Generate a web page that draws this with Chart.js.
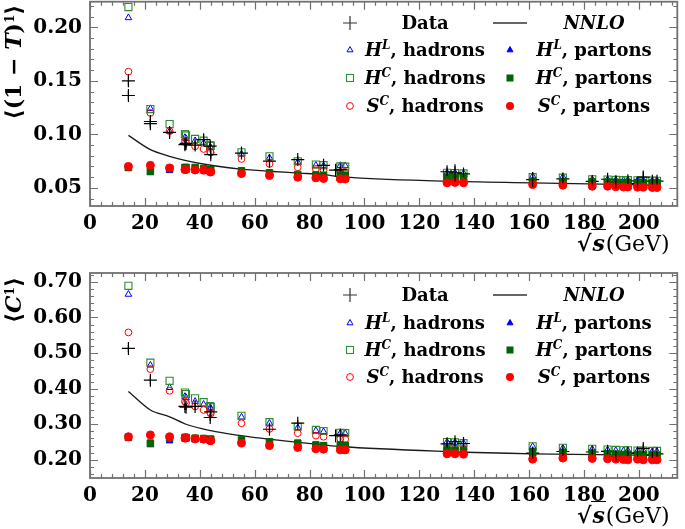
<!DOCTYPE html>
<html>
<head>
<meta charset="utf-8">
<script src="https://cdn.jsdelivr.net/npm/chart.js@4.4.1/dist/chart.umd.min.js"></script>
<style>
  body { margin: 0; background: #fff; }
  #wrap { position: relative; width: 685px; height: 529px; overflow: hidden;
          font-family: "DejaVu Serif", serif; font-weight: bold; color: #000; }
  canvas { position: absolute; left: 0; }
  .ytitle { position: absolute; white-space: nowrap; font-size: 22px;
            transform: translate(-50%, -50%) rotate(-90deg); }
  .xtitle { position: absolute; white-space: nowrap; font-size: 22px; }
  .xtitle .gev { font-weight: normal; }
  .xtitle .rad { border-top: 1.6px solid #000; font-style: italic; padding: 0 1px; }
  .cell { position: absolute; height: 24px; line-height: 24px; font-size: 18px;
          text-align: center; white-space: nowrap; }
  .mk { position: absolute; }
  i { font-style: italic; }
  sup { font-size: 12px; line-height: 0; vertical-align: 7px; font-style: italic; }
</style>
</head>
<body>
<div id="wrap">
  <canvas id="topChart"></canvas>
  <canvas id="botChart"></canvas>
  <div class="ytitle" style="left:13px;top:62px">⟨(1 − <i>T</i>)<sup style="font-style:normal">1</sup>⟩</div>
  <div class="ytitle" style="left:13px;top:300px">⟨<i>C</i><sup style="font-style:normal">1</sup>⟩</div>
  <div class="xtitle" style="left:577px;top:230px">√<span class="rad">s</span><span class="gev">(GeV)</span></div>
  <div class="xtitle" style="left:577px;top:502px">√<span class="rad">s</span><span class="gev">(GeV)</span></div>
</div>
<script>
// ── Data ──────────────────────────────────────────────────
const ENERGY = [14, 22, 29, 34.6, 35, 38.3, 41.4, 43.8, 44, 55.2, 65.4, 75.7, 82.3, 85.1, 91.2, 93,
                130.1, 133, 136.1, 161.3, 172.3, 183, 188.6, 191.6, 194.4, 196, 199.5, 201.6, 204.9, 206.6];

// thrust <(1-T)^1>
const T_HL_HAD = [0.209, 0.124, 0.1027, 0.097, 0.096, 0.094, 0.092, 0.088, 0.0875, 0.0815, 0.078, 0.074, 0.071, 0.0705, 0.0708, 0.0706,
                  0.064, 0.064, 0.0637, 0.0608, 0.0602, 0.0578, 0.0578, 0.0572, 0.0571, 0.0571, 0.0570, 0.0568, 0.0568, 0.0567];
const T_HC_HAD = [0.219, 0.1236, 0.1096, 0.1003, 0.099, 0.0957, 0.0941, 0.0897, 0.0892, 0.0832, 0.0795, 0.0748, 0.0717, 0.0712, 0.0700, 0.0698,
                  0.0640, 0.0638, 0.0635, 0.0600, 0.0595, 0.0580, 0.0577, 0.0574, 0.0572, 0.0572, 0.0570, 0.0569, 0.0567, 0.0566];
const T_SC_HAD = [0.1586, 0.120, 0.103, 0.0934, 0.092, 0.0888, 0.0863, 0.0835, 0.083, 0.077, 0.0724, 0.0692, 0.0677, 0.0661, 0.0649, 0.0648,
                  0.058, 0.058, 0.0578, 0.0555, 0.055, 0.0535, 0.0532, 0.053, 0.0528, 0.0528, 0.0527, 0.0526, 0.0525, 0.0524];
const T_HL_PAR = [0.068, 0.064, 0.066, 0.0665, 0.0665, 0.066, 0.066, 0.065, 0.065, 0.0635, 0.062, 0.061, 0.0605, 0.060, 0.0605, 0.0603,
                  0.0585, 0.0585, 0.0583, 0.0555, 0.0550, 0.0548, 0.0545, 0.0543, 0.0542, 0.0542, 0.054, 0.054, 0.0539, 0.0538];
const T_HC_PAR = [0.069, 0.0655, 0.068, 0.069, 0.069, 0.069, 0.068, 0.067, 0.067, 0.066, 0.064, 0.0625, 0.062, 0.0617, 0.062, 0.0618,
                  0.060, 0.0598, 0.0595, 0.0562, 0.0560, 0.0555, 0.0552, 0.055, 0.0549, 0.0549, 0.0548, 0.0547, 0.0546, 0.0545];
const T_SC_PAR = [0.070, 0.071, 0.0686, 0.067, 0.0672, 0.0667, 0.0665, 0.0649, 0.0648, 0.0633, 0.0615, 0.0599, 0.0593, 0.0587, 0.0584, 0.0583,
                  0.0547, 0.055, 0.0547, 0.053, 0.0525, 0.0515, 0.0515, 0.051, 0.0508, 0.0508, 0.0506, 0.0506, 0.0503, 0.0503];

const T_DATA_E   = [14, 14, 22, 22, 29, 34.6, 35, 38.3, 41.4, 43.8, 44, 55.2, 65.4, 75.7, 85.1, 89.5, 91.2,
                    130.1, 133, 136.1, 161.3, 172.3, 183, 188.6, 191.6, 196, 199.5, 201.6, 204.9, 206.6];
const T_DATA     = [0.150, 0.1363, 0.112, 0.110, 0.1018, 0.0903, 0.0915, 0.090, 0.095, 0.089, 0.081, 0.0825, 0.075, 0.0764, 0.071, 0.0665, 0.067,
                    0.065, 0.064, 0.063, 0.0577, 0.0583, 0.056, 0.058, 0.0555, 0.0565, 0.054, 0.060, 0.0562, 0.0562];
const T_DATA_ERR = [0.004, 0.004, 0.002, 0.002, 0.005, 0.005, 0.004, 0.004, 0.005, 0.004, 0.004, 0.003, 0.006, 0.003, 0.004, 0.002, 0.001,
                    0.004, 0.008, 0.003, 0.007, 0.004, 0.003, 0.003, 0.006, 0.003, 0.006, 0.005, 0.003, 0.003];

const NNLO_E = [14, 22, 29, 35, 44, 55, 65, 76, 85, 91.2, 130, 161, 207];
const T_NNLO = [0.099, 0.0857, 0.0795, 0.0755, 0.0711, 0.0675, 0.0655, 0.0638, 0.0624, 0.0605, 0.0562, 0.0546, 0.0524];

// C-parameter <C^1>
const C_HL_HAD = [0.665, 0.466, 0.403, 0.378, 0.375, 0.364, 0.356, 0.347, 0.344, 0.320, 0.303, 0.290, 0.282, 0.279, 0.275, 0.274,
                  0.250, 0.249, 0.247, 0.2375, 0.233, 0.230, 0.228, 0.226, 0.2255, 0.2255, 0.2255, 0.2255, 0.2235, 0.2235];
const C_HC_HAD = [0.689, 0.473, 0.422, 0.389, 0.385, 0.373, 0.362, 0.351, 0.348, 0.324, 0.306, 0.293, 0.284, 0.281, 0.276, 0.275,
                  0.250, 0.249, 0.247, 0.238, 0.234, 0.231, 0.229, 0.228, 0.227, 0.227, 0.226, 0.226, 0.225, 0.225];
const C_SC_HAD = [0.558, 0.455, 0.394, 0.364, 0.360, 0.350, 0.340, 0.333, 0.330, 0.303, 0.287, 0.275, 0.268, 0.265, 0.259, 0.258,
                  0.232, 0.232, 0.230, 0.215, 0.213, 0.210, 0.209, 0.208, 0.207, 0.207, 0.206, 0.206, 0.205, 0.205];
const C_HL_PAR = [0.262, 0.242, 0.253, 0.258, 0.258, 0.256, 0.255, 0.252, 0.252, 0.250, 0.245, 0.242, 0.237, 0.236, 0.238, 0.237,
                  0.222, 0.222, 0.221, 0.217, 0.215, 0.214, 0.213, 0.212, 0.211, 0.211, 0.210, 0.210, 0.210, 0.209];
const C_HC_PAR = [0.263, 0.247, 0.261, 0.263, 0.263, 0.261, 0.260, 0.258, 0.258, 0.256, 0.251, 0.247, 0.242, 0.240, 0.242, 0.241,
                  0.228, 0.227, 0.226, 0.2235, 0.221, 0.219, 0.217, 0.216, 0.215, 0.215, 0.215, 0.214, 0.214, 0.213];
const C_SC_PAR = [0.265, 0.270, 0.265, 0.261, 0.262, 0.259, 0.258, 0.254, 0.254, 0.247, 0.240, 0.235, 0.231, 0.230, 0.228, 0.228,
                  0.217, 0.217, 0.216, 0.202, 0.205, 0.204, 0.203, 0.202, 0.201, 0.200, 0.202, 0.200, 0.200, 0.200];

const C_DATA_E   = [14, 22, 34.6, 35, 38.3, 43.8, 44, 65.4, 75.7, 89.5, 91.2,
                    130.1, 133, 136.1, 161.3, 172.3, 183, 188.6, 191.6, 196, 199.5, 201.6, 204.9, 206.6];
const C_DATA     = [0.513, 0.424, 0.350, 0.348, 0.350, 0.319, 0.335, 0.286, 0.303, 0.268, 0.270,
                    0.245, 0.251, 0.246, 0.219, 0.2235, 0.222, 0.224, 0.2095, 0.219, 0.219, 0.232, 0.214, 0.217];
const C_DATA_ERR = [0.010, 0.010, 0.010, 0.008, 0.008, 0.010, 0.008, 0.010, 0.008, 0.006, 0.003,
                    0.010, 0.010, 0.008, 0.015, 0.012, 0.008, 0.008, 0.015, 0.008, 0.010, 0.012, 0.008, 0.008];
const C_NNLO = [0.392, 0.340, 0.321, 0.300, 0.282, 0.268, 0.258, 0.249, 0.242, 0.2375, 0.2235, 0.217, 0.2125];

const X_TICKS = [0, 20, 40, 60, 80, 100, 120, 140, 160, 180, 200];
const T_TICKS = [0.05, 0.10, 0.15, 0.20];
const C_TICKS = [0.20, 0.30, 0.40, 0.50, 0.60, 0.70];

// ── Styles ────────────────────────────────────────────────
const BLUE = '#0000ff', GREEN_O = '#2e8b2e', GREEN_F = '#006400', RED = '#ff0000';
const FRAME = '#707070';
const TICK_FONT = { family: '"DejaVu Serif", serif', weight: 'bold', size: 20 };

function pts(xs, ys) { return xs.map((x, i) => ({ x, y: ys[i] })); }

function buildDatasets(s) {
  return [
    { label: 'NNLO', type: 'line', data: pts(NNLO_E, s.nnlo), borderColor: '#1a1a1a', borderWidth: 1.3,
      pointRadius: 0, cubicInterpolationMode: 'monotone', fill: false, order: 9 },
    { label: 'HL had', data: pts(ENERGY, s.hlHad), pointStyle: 'triangle', pointRadius: 3.8,
      borderColor: BLUE, backgroundColor: '#fff', borderWidth: 1, order: 8 },
    { label: 'HC had', data: pts(ENERGY, s.hcHad), pointStyle: 'rect', pointRadius: 5,
      borderColor: GREEN_O, backgroundColor: 'rgba(255,255,255,0)', borderWidth: 1.1, order: 7 },
    { label: 'SC had', data: pts(ENERGY, s.scHad), pointStyle: 'circle', pointRadius: 3.4,
      borderColor: RED, backgroundColor: 'rgba(255,255,255,0)', borderWidth: 1, order: 6 },
    { label: 'Data', data: pts(s.dataE, s.data), errors: s.err, pointStyle: 'cross', pointRadius: 6.5,
      borderColor: '#000', borderWidth: 1.2, order: 5 },
    { label: 'HL par', data: pts(ENERGY, s.hlPar), pointStyle: 'triangle', pointRadius: 3.8,
      borderColor: BLUE, backgroundColor: BLUE, borderWidth: 1, order: 4 },
    { label: 'HC par', data: pts(ENERGY, s.hcPar), pointStyle: 'rect', pointRadius: 4.6,
      borderColor: GREEN_F, backgroundColor: GREEN_F, borderWidth: 1, order: 3 },
    { label: 'SC par', data: pts(ENERGY, s.scPar), pointStyle: 'circle', pointRadius: 4,
      borderColor: RED, backgroundColor: RED, borderWidth: 1, order: 2 },
  ];
}

// frame with inward ticks on all four sides
const framePlugin = {
  id: 'frame',
  afterDraw(chart) {
    const { ctx, chartArea: a, scales: { x, y } } = chart;
    const o = chart.options.plugins.frame;
    ctx.save();
    ctx.strokeStyle = FRAME;
    ctx.lineWidth = 1.2;
    ctx.beginPath();
    for (let k = 0; k * 4 <= x.max; k++) {
      const v = k * 4, px = Math.round(x.getPixelForValue(v)) + 0.5;
      const len = v % 20 === 0 ? 8 : 4;
      ctx.moveTo(px, a.bottom); ctx.lineTo(px, a.bottom - len);
      ctx.moveTo(px, a.top); ctx.lineTo(px, a.top + len);
    }
    for (let k = Math.ceil(y.min / o.minor - 1e-9); k * o.minor <= y.max + 1e-9; k++) {
      const v = k * o.minor, py = Math.round(y.getPixelForValue(v)) + 0.5;
      const major = o.majors.some(m => Math.abs(m - v) < 1e-6);
      const len = major ? 8 : 4;
      ctx.moveTo(a.left, py); ctx.lineTo(a.left + len, py);
      ctx.moveTo(a.right, py); ctx.lineTo(a.right - len, py);
    }
    ctx.stroke();
    ctx.lineWidth = 1.8;
    ctx.strokeRect(a.left, a.top, a.right - a.left, a.bottom - a.top);
    ctx.restore();
  }
};

// vertical error bars on the data points
const errorPlugin = {
  id: 'errbars',
  afterDatasetsDraw(chart) {
    const { ctx, scales: { x, y } } = chart;
    ctx.save();
    ctx.strokeStyle = '#000';
    ctx.lineWidth = 1.2;
    chart.data.datasets.forEach(ds => {
      if (!ds.errors) return;
      ctx.beginPath();
      ds.data.forEach((p, i) => {
        const px = x.getPixelForValue(p.x);
        ctx.moveTo(px, y.getPixelForValue(p.y - ds.errors[i]));
        ctx.lineTo(px, y.getPixelForValue(p.y + ds.errors[i]));
      });
      ctx.stroke();
    });
    ctx.restore();
  }
};

function makeChart(id, height, top, bottom, yMin, yMax, yTicks, minor, series) {
  const cv = document.getElementById(id);
  cv.width = 685; cv.height = height;
  cv.style.top = top + 'px';
  cv.style.width = '685px';
  cv.style.height = height + 'px';
  return new Chart(cv, {
    type: 'scatter',
    data: { datasets: buildDatasets(series) },
    plugins: [errorPlugin, framePlugin],
    options: {
      responsive: false, maintainAspectRatio: false, animation: false,
      layout: { padding: { top: series.padTop, right: 3, left: 0, bottom: 0 } },
      plugins: { legend: { display: false }, tooltip: { enabled: false },
                 frame: { minor, majors: yTicks } },
      scales: {
        x: {
          type: 'linear', min: 0, max: 214,
          afterBuildTicks: s => { s.ticks = X_TICKS.map(v => ({ value: v })); },
          grid: { display: false, drawTicks: false }, border: { display: false },
          ticks: { font: TICK_FONT, color: '#000', padding: 6, maxRotation: 0, autoSkip: false },
          afterFit: s => { s.height = height - bottom; s.paddingLeft = 0; s.paddingRight = 0; },
        },
        y: {
          min: yMin, max: yMax,
          afterBuildTicks: s => { s.ticks = yTicks.map(v => ({ value: v })); },
          grid: { display: false, drawTicks: false }, border: { display: false },
          ticks: { font: TICK_FONT, color: '#000', padding: 8, callback: v => v.toFixed(2) },
          afterFit: s => { s.width = 90; s.paddingTop = 0; s.paddingBottom = 0; },
        },
      },
    },
  });
}

// top canvas sits 6px above the page so its plot frame lands at y = 1
makeChart('topChart', 268, -6, 212, 0.033, 0.224, T_TICKS, 0.01, {
  padTop: 7, nnlo: T_NNLO, hlHad: T_HL_HAD, hcHad: T_HC_HAD, scHad: T_SC_HAD,
  hlPar: T_HL_PAR, hcPar: T_HC_PAR, scPar: T_SC_PAR, dataE: T_DATA_E, data: T_DATA, err: T_DATA_ERR,
});
makeChart('botChart', 267, 262, 216, 0.149, 0.725, C_TICKS, 0.02, {
  padTop: 11, nnlo: C_NNLO, hlHad: C_HL_HAD, hcHad: C_HC_HAD, scHad: C_SC_HAD,
  hlPar: C_HL_PAR, hcPar: C_HC_PAR, scPar: C_SC_PAR, dataE: C_DATA_E, data: C_DATA, err: C_DATA_ERR,
});

// ── Legends (HTML, for the super-scripts) ─────────────────
const LEGEND_ROWS = [
  [['cross', 'Data'], ['line', '<i>NNLO</i>']],
  [['triO', '<i>H</i><sup>L</sup>, hadrons'], ['triF', '<i>H</i><sup>L</sup>, partons']],
  [['sqO', '<i>H</i><sup>C</sup>, hadrons'], ['sqF', '<i>H</i><sup>C</sup>, partons']],
  [['cirO', '<i>S</i><sup>C</sup>, hadrons'], ['cirF', '<i>S</i><sup>C</sup>, partons']],
];
const MARKERS = {
  cross: `<path d="M1 8H15M8 1V15" stroke="#333" stroke-width="1.2"/>`,
  line:  `<path d="M0 8H34" stroke="#333" stroke-width="1.4"/>`,
  triO:  `<path d="M8 4.5L11 9.8H5Z" fill="#fff" stroke="${BLUE}" stroke-width="1"/>`,
  triF:  `<path d="M8 4.5L11 9.8H5Z" fill="${BLUE}" stroke="${BLUE}" stroke-width="1"/>`,
  sqO:   `<rect x="4.5" y="4.5" width="7" height="7" fill="none" stroke="${GREEN_O}" stroke-width="1.1"/>`,
  sqF:   `<rect x="4.5" y="4.5" width="7" height="7" fill="${GREEN_F}"/>`,
  cirO:  `<circle cx="8" cy="8" r="3.4" fill="none" stroke="${RED}" stroke-width="1"/>`,
  cirF:  `<circle cx="8" cy="8" r="4" fill="${RED}"/>`,
};

function renderLegend(rowsY) {
  const wrap = document.getElementById('wrap');
  const cols = [{ mk: 350, l: 360, w: 130 }, { mk: 510, l: 532, w: 124 }];
  LEGEND_ROWS.forEach((row, r) => {
    row.forEach(([m, html], c) => {
      const col = cols[c], yc = rowsY[r];
      const wide = m === 'line';
      const w = wide ? 34 : 16;
      const cx = wide ? 510 : col.mk;
      wrap.insertAdjacentHTML('beforeend',
        `<svg class="mk" width="${w}" height="16" style="left:${cx - w / 2}px;top:${yc - 8}px">${MARKERS[m]}</svg>` +
        `<div class="cell" style="left:${col.l}px;width:${col.w}px;top:${yc - 12}px">${html}</div>`);
    });
  });
}
renderLegend([23, 50, 78, 106]);
renderLegend([295, 323, 350, 377]);
</script>
</body>
</html>
